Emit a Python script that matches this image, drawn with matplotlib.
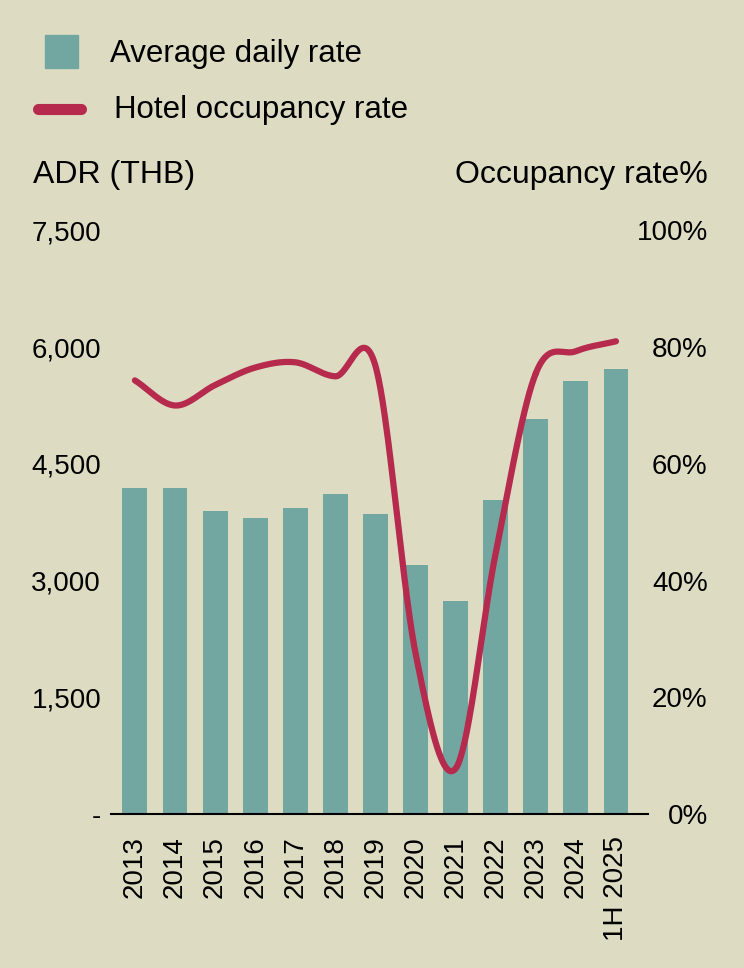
import matplotlib
matplotlib.use("Agg")
import matplotlib.pyplot as plt
import numpy as np
from matplotlib.patches import Rectangle
from matplotlib.lines import Line2D

years = ["2013", "2014", "2015", "2016", "2017", "2018", "2019",
         "2020", "2021", "2022", "2023", "2024", "1H 2025"]
adr = [4190, 4190, 3890, 3810, 3930, 4110, 3860, 3200, 2740, 4030, 5080, 5560, 5720]
occupancy = [74.3, 70.0, 73.5, 76.5, 77.4, 75.0, 76.8, 27.6, 7.8, 44.7, 75.5, 79.3, 81.0]

adr_ticks = [0, 1500, 3000, 4500, 6000, 7500]
adr_labels = ["-", "1,500", "3,000", "4,500", "6,000", "7,500"]
occ_ticks = [0, 20, 40, 60, 80, 100]
occ_labels = ["0%", "20%", "40%", "60%", "80%", "100%"]

bg = "#dddcc3"
bar_col = "#72a7a1"
line_col = "#b52a4d"

plt.rcParams['font.family'] = ['Liberation Sans', 'DejaVu Sans']
plt.rcParams['font.size'] = 20


def smooth(xs, ys, n=40):
    # catmull-rom, like the smoothed line in the spreadsheet
    xs = np.asarray(xs, float)
    ys = np.asarray(ys, float)
    px = np.concatenate([[2 * xs[0] - xs[1]], xs, [2 * xs[-1] - xs[-2]]])
    py = np.concatenate([[2 * ys[0] - ys[1]], ys, [2 * ys[-1] - ys[-2]]])
    ox, oy = [], []
    t = np.linspace(0, 1, n)
    for i in range(1, len(px) - 2):
        for p, o in ((px, ox), (py, oy)):
            p0, p1, p2, p3 = p[i - 1], p[i], p[i + 1], p[i + 2]
            o.extend(0.5 * (2 * p1 + (-p0 + p2) * t
                            + (2 * p0 - 5 * p1 + 4 * p2 - p3) * t ** 2
                            + (-p0 + 3 * p1 - 3 * p2 + p3) * t ** 3))
    return np.array(ox), np.array(oy)


fig = plt.figure(figsize=(7.44, 9.68), dpi=100, facecolor=bg)
ax = fig.add_axes([0.149, 0.159, 0.722, 0.603])
ax.set_facecolor(bg)

x = np.arange(len(years))
ax.bar(x, adr, width=0.62, color=bar_col, zorder=2)
ax.set_xlim(-0.6, 12.8)
ax.set_ylim(0, 7500)
ax.set_yticks(adr_ticks)
ax.set_yticklabels(adr_labels)
ax.set_xticks(x)
ax.set_xticklabels(years, rotation=90, va="top")
ax.tick_params(axis="both", length=0)
ax.tick_params(axis="y", pad=7)
ax.tick_params(axis="x", pad=16)
for s in ["top", "right", "left"]:
    ax.spines[s].set_visible(False)
ax.spines["bottom"].set_linewidth(1.5)

ax2 = ax.twinx()
ax2.set_ylim(0, 100)
sx, sy = smooth(x, occupancy)
ax2.plot(sx, sy, color=line_col, lw=4.5, solid_capstyle="round", zorder=3)
ax2.set_yticks(occ_ticks)
ax2.set_yticklabels(occ_labels, ha="right")
ax2.tick_params(axis="y", length=0, pad=43)
for s in ["top", "right", "left", "bottom"]:
    ax2.spines[s].set_visible(False)

fig.text(33 / 744, 1 - 175 / 968, "ADR (THB)", va="center", ha="left", fontsize=23)
fig.text(708 / 744, 1 - 175 / 968, "Occupancy rate%", va="center", ha="right", fontsize=23)

# legend
fig.add_artist(Rectangle((45 / 744, 1 - 68 / 968), 33 / 744, 33 / 968,
                         transform=fig.transFigure, color=bar_col))
fig.text(110 / 744, 1 - 54 / 968, "Average daily rate", va="center", ha="left", fontsize=22.5)
fig.add_artist(Line2D([38 / 744, 81 / 744], [1 - 109 / 968, 1 - 109 / 968],
                      transform=fig.transFigure, color=line_col, lw=8,
                      solid_capstyle="round"))
fig.text(114 / 744, 1 - 110 / 968, "Hotel occupancy rate", va="center", ha="left", fontsize=22.5)

fig.savefig("out.png", dpi=100, facecolor=bg)
